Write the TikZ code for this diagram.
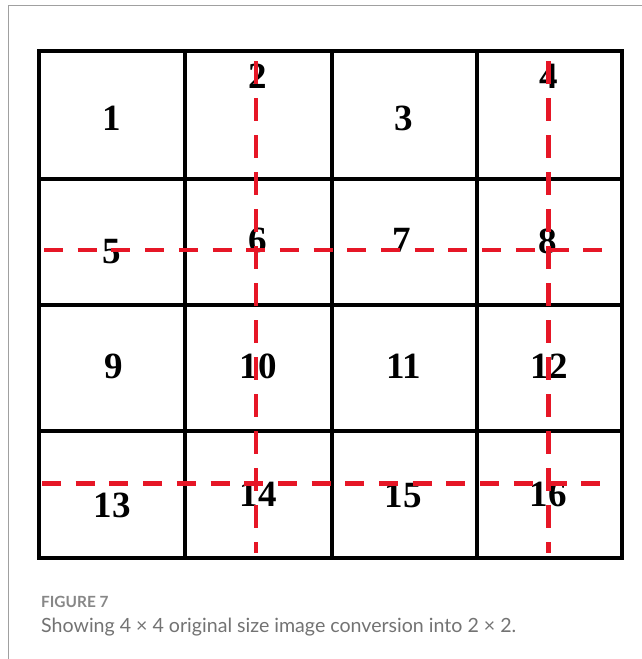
\documentclass[tikz,border=0pt]{standalone}
\usepackage{fontspec}
\setmainfont{Liberation Serif}
\newfontfamily\capfont{Lato}
\definecolor{gridred}{RGB}{230,22,38}
\definecolor{framegray}{RGB}{160,160,160}
\definecolor{capgray}{RGB}{115,115,115}
\definecolor{figgray}{RGB}{135,135,135}
\tikzset{
  gridline/.style={line width=4pt, black},
  redh/.style={line width=4.2pt, gridred, dash pattern=on 19pt off 14.7pt},
  redv/.style={line width=4.2pt, gridred, dash pattern=on 23pt off 14pt, dash phase=-11pt},
  numlab/.style={inner sep=0pt, font=\fontsize{37}{37}\selectfont\bfseries},
  frameline/.style={line width=1.5pt, framegray}
}
\begin{document}
\begin{tikzpicture}[x=1pt,y=-1pt]
\useasboundingbox (0,0) rectangle (642,659);
\fill[white] (0,0) rectangle (642,659);
% outer gray frame (left and top)
\coordinate (fbl) at (8.5,659);
\coordinate (ftl) at (8.5,5.7);
\coordinate (ftr) at (642,5.7);
\draw[frameline] (fbl) -- (ftl) -- (ftr);
% grid
\coordinate (g00) at (39.4,51.3);
\coordinate (g44) at (622,558);
\draw[gridline] (g00) rectangle (g44);
\foreach \x in {185,331.5,476.5} \draw[gridline] (\x,51.3) -- (\x,558);
\foreach \y in {179,305,431} \draw[gridline] (39.4,\y) -- (622,\y);
% labels
\node[numlab] (n1)  at (112,118) {1};
\node[numlab] (n2)  at (258,76)  {2};
\node[numlab] (n3)  at (404,118) {3};
\node[numlab] (n4)  at (549,76)  {4};
\node[numlab] (n5)  at (112,252) {5};
\node[numlab] (n6)  at (258,240) {6};
\node[numlab] (n7)  at (402,240) {7};
\node[numlab] (n8)  at (548,241) {8};
\node[numlab] (n9)  at (114,366) {9};
\node[numlab] (n10) at (258,366) {10};
\node[numlab] (n11) at (404,366) {11};
\node[numlab] (n12) at (549,366) {12};
\node[numlab] (n13) at (112,505) {13};
\node[numlab] (n14) at (258,494) {14};
\node[numlab] (n15) at (403,495) {15};
\node[numlab] (n16) at (548,494) {16};
% red dashed split lines
\coordinate (h1a) at (44,250);
\coordinate (h1b) at (603,250);
\coordinate (h2a) at (42,483.5);
\coordinate (h2b) at (603,483.5);
\coordinate (v1a) at (256,50);
\coordinate (v1b) at (256,553);
\coordinate (v2a) at (548.5,50);
\coordinate (v2b) at (548.5,553);
\draw[redh] (h1a) -- (h1b);
\draw[redh] (h2a) -- (h2b);
\draw[redv] (v1a) -- (v1b);
\draw[redv] (v2a) -- (v2b);
% caption
\node[anchor=west, inner sep=0pt, text=figgray, font=\capfont\fontsize{15.4}{15.4}\selectfont\bfseries] (figlab) at (41,602) {FIGURE 7};
\node[anchor=west, inner sep=0pt, text=capgray, font=\capfont\fontsize{19.6}{19.6}\selectfont] (cap) at (41,627) {Showing 4 \texttimes{} 4 original size image conversion into 2 \texttimes{} 2.};
\end{tikzpicture}
\end{document}
